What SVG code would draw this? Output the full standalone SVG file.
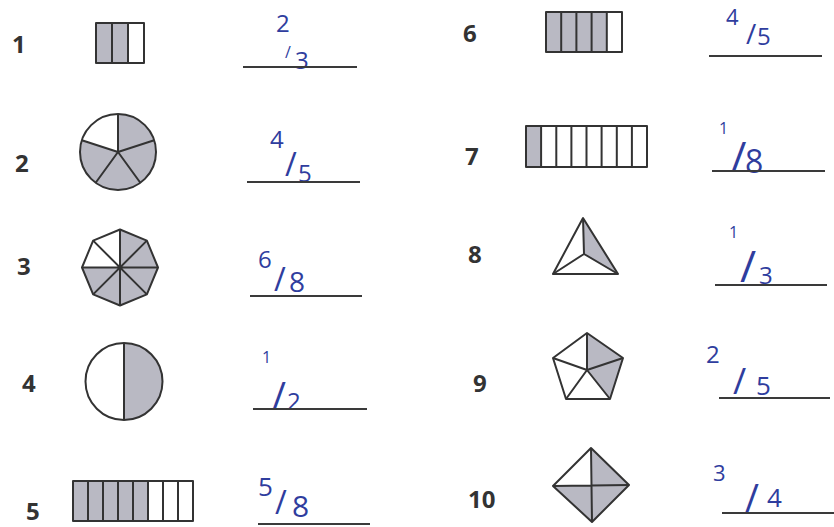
<svg xmlns="http://www.w3.org/2000/svg" width="834" height="527" viewBox="0 0 834 527">
<style>
.num{font-family:"Open Sans","Liberation Sans",sans-serif;font-weight:700;font-size:24px;fill:#333}
.hw{font-family:"Open Sans","DejaVu Sans",sans-serif;font-weight:400;fill:#2f3d9e}
.sh{fill:#b9b9c3}
.wh{fill:#fff}
.ln{stroke:#333;stroke-width:2;fill:none;stroke-linejoin:round}
.ans{stroke:#3a3a3a;stroke-width:2.2}
</style>
<rect width="834" height="527" fill="#fff"/>

<g id="item1">
<text class="num" x="12" y="53">1</text>
<rect class="sh" x="96" y="23" width="32" height="40"/>
<rect class="ln" x="96" y="23" width="48" height="40"/>
<path class="ln" d="M112,23V63M128,23V63"/>
<text class="hw"><tspan x="276" y="32" font-size="24">2</tspan><tspan x="285" y="58" font-size="16">/</tspan><tspan x="295" y="69" font-size="24">3</tspan></text>
<line class="ans" x1="243" y1="67" x2="357" y2="67"/>
</g>

<g id="item2">
<text class="num" x="15" y="172">2</text>
<circle class="sh" cx="118" cy="152" r="38"/>
<path class="wh" d="M118,152L81.86,140.26A38,38 0 0 1 118,114Z"/>
<circle class="ln" cx="118" cy="152" r="38"/>
<path class="ln" d="M118,152L118,114M118,152L154.14,140.26M118,152L140.34,182.74M118,152L95.66,182.74M118,152L81.86,140.26"/>
<text class="hw"><tspan x="270" y="148" font-size="24">4</tspan><tspan x="285" y="176" font-size="32">/</tspan><tspan x="298" y="182" font-size="24">5</tspan></text>
<line class="ans" x1="247" y1="182" x2="360" y2="182"/>
</g>

<g id="item3">
<text class="num" x="17" y="275">3</text>
<polygon class="sh" points="120,229.5 146.87,240.63 158,267.5 146.87,294.37 120,305.5 93.13,294.37 82,267.5 93.13,240.63"/>
<polygon class="wh" points="120,267.5 82,267.5 93.13,240.63 120,229.5"/>
<polygon class="ln" points="120,229.5 146.87,240.63 158,267.5 146.87,294.37 120,305.5 93.13,294.37 82,267.5 93.13,240.63"/>
<path class="ln" d="M120,229.5V305.5M82,267.5H158M93.13,240.63L146.87,294.37M146.87,240.63L93.13,294.37"/>
<text class="hw"><tspan x="258" y="268" font-size="24">6</tspan><tspan x="274" y="291" font-size="32">/</tspan><tspan x="289" y="292" font-size="28">8</tspan></text>
<line class="ans" x1="250" y1="296" x2="362" y2="296"/>
</g>

<g id="item4">
<text class="num" x="22" y="392">4</text>
<path class="sh" d="M124,343A38.5,38.5 0 0 1 124,420Z"/>
<circle class="ln" cx="124" cy="381.5" r="38.5"/>
<path class="ln" d="M124,343V420"/>
<text class="hw"><tspan x="262" y="363" font-size="16">1</tspan><tspan x="272" y="410" font-size="38">/</tspan><tspan x="287" y="410" font-size="24">2</tspan></text>
<line class="ans" x1="253" y1="409" x2="367" y2="409"/>
</g>

<g id="item5">
<text class="num" x="26" y="520">5</text>
<rect class="sh" x="73" y="481" width="75" height="40"/>
<rect class="ln" x="73" y="481" width="120" height="40"/>
<path class="ln" d="M88,481V521M103,481V521M118,481V521M133,481V521M148,481V521M163,481V521M178,481V521"/>
<text class="hw"><tspan x="258" y="496" font-size="26">5</tspan><tspan x="275" y="514" font-size="32">/</tspan><tspan x="292" y="517" font-size="30">8</tspan></text>
<line class="ans" x1="258" y1="524" x2="370" y2="524"/>
</g>

<g id="item6">
<text class="num" x="463" y="42">6</text>
<rect class="sh" x="546" y="12" width="60.8" height="40"/>
<rect class="ln" x="546" y="12" width="76" height="40"/>
<path class="ln" d="M561.2,12V52M576.4,12V52M591.6,12V52M606.8,12V52"/>
<text class="hw"><tspan x="726" y="25" font-size="22">4</tspan><tspan x="746" y="44" font-size="28">/</tspan><tspan x="757" y="45" font-size="24">5</tspan></text>
<line class="ans" x1="709" y1="56" x2="822" y2="56"/>
</g>

<g id="item7">
<text class="num" x="465" y="165">7</text>
<rect class="sh" x="526" y="126" width="15.1" height="41"/>
<rect class="ln" x="526" y="126" width="121" height="41"/>
<path class="ln" d="M541.1,126V167M556.3,126V167M571.4,126V167M586.5,126V167M601.6,126V167M616.8,126V167M631.9,126V167"/>
<text class="hw"><tspan x="719" y="134" font-size="16">1</tspan><tspan x="731" y="172" font-size="42">/</tspan><tspan x="745" y="173" font-size="32">8</tspan></text>
<line class="ans" x1="712" y1="171" x2="825" y2="171"/>
</g>

<g id="item8">
<text class="num" x="468" y="263">8</text>
<polygon class="sh" points="583,218 584,254 618,274"/>
<polygon class="ln" points="583,218 553,274 618,274"/>
<path class="ln" d="M584,254L583,218M584,254L553,274M584,254L618,274"/>
<text class="hw"><tspan x="729" y="238" font-size="16">1</tspan><tspan x="740" y="282" font-size="44">/</tspan><tspan x="759" y="284" font-size="24">3</tspan></text>
<line class="ans" x1="715" y1="285" x2="827" y2="285"/>
</g>

<g id="item9">
<text class="num" x="473" y="392">9</text>
<polygon class="sh" points="587,333 623,358 610,399 587,370"/>
<polygon class="ln" points="587,333 623,358 610,399 566,399 553,358"/>
<path class="ln" d="M587,370L587,333M587,370L623,358M587,370L610,399M587,370L566,399M587,370L553,358"/>
<text class="hw"><tspan x="706" y="363" font-size="24">2</tspan><tspan x="733" y="394" font-size="36">/</tspan><tspan x="756" y="395" font-size="26">5</tspan></text>
<line class="ans" x1="719" y1="398" x2="830" y2="398"/>
</g>

<g id="item10">
<text class="num" x="468" y="508">10</text>
<polygon class="sh" points="591,448 629,485 592,522 553,486"/>
<polygon class="wh" points="591,448 591.5,485.5 553,486"/>
<polygon class="ln" points="591,448 629,485 592,522 553,486"/>
<path class="ln" d="M591,448L592,522M553,486L629,485"/>
<text class="hw"><tspan x="713" y="481" font-size="22">3</tspan><tspan x="745" y="512" font-size="38">/</tspan><tspan x="767" y="507" font-size="26">4</tspan></text>
<line class="ans" x1="722" y1="513" x2="834" y2="513"/>
</g>
</svg>
